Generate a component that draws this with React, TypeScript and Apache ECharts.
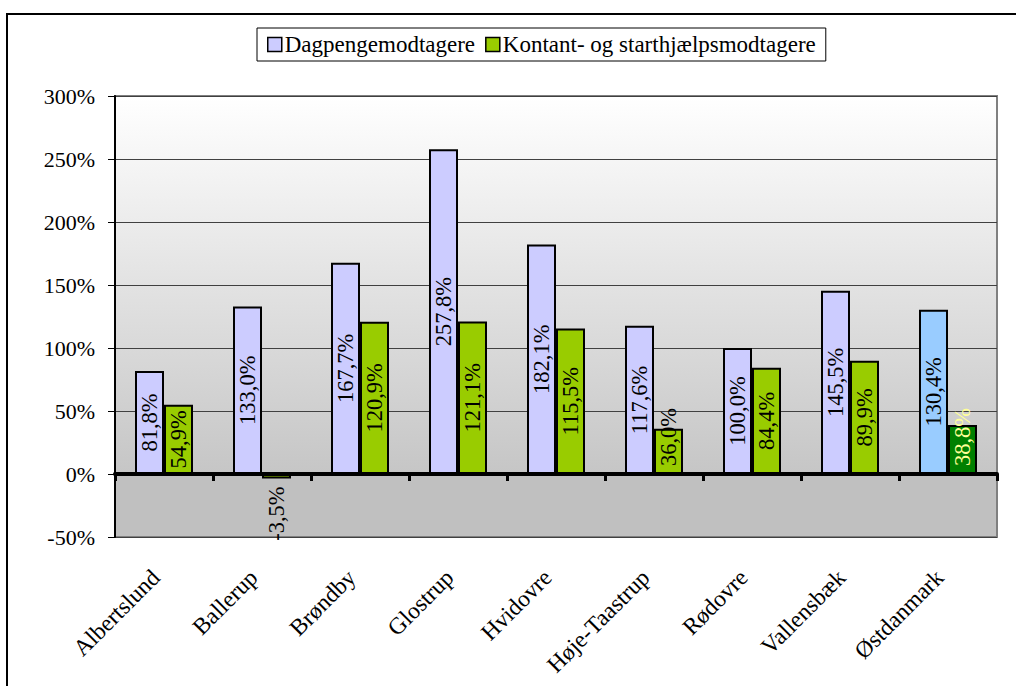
import React, { useEffect, useRef } from "react";
import * as echarts from "echarts";

const categories = [
  "Albertslund",
  "Ballerup",
  "Brøndby",
  "Glostrup",
  "Hvidovre",
  "Høje-Taastrup",
  "Rødovre",
  "Vallensbæk",
  "Østdanmark",
];
const dagpenge = [81.8, 133.0, 167.7, 257.8, 182.1, 117.6, 100.0, 145.5, 130.4];
const kontant = [54.9, -3.5, 120.9, 121.1, 115.5, 36.0, 84.4, 89.9, 38.8];
const seriesNames = ["Dagpengemodtagere", "Kontant- og starthjælpsmodtagere"];
const yTicks = { min: -50, max: 300, interval: 50 };

const FONT = '"Liberation Serif", "Times New Roman", Times, serif';
const fmt = (v: number) => v.toFixed(1).replace(".", ",") + "%";

export default function App() {
  const ref = useRef<HTMLDivElement>(null);
  useEffect(() => {
    document.body.style.margin = "0";
    if (!ref.current) return;
    const chart = echarts.init(ref.current, undefined, { renderer: "svg" });
    const last = categories.length - 1;
    const baseLabel = {
      show: true,
      position: "inside",
      rotate: 90,
      align: "center",
      verticalAlign: "middle",
      color: "#000",
      fontFamily: FONT,
      fontSize: 22.5,
      formatter: (p: any) => fmt(p.value),
    };
    const shortLabel = {
      position: "insideBottom",
      distance: 8,
      align: "left",
      verticalAlign: "middle",
    };
    const dagData = dagpenge.map((v, i) =>
      i === last ? { value: v, itemStyle: { color: "#99CCFF" } } : v
    );
    const konData = kontant.map((v, i) => {
      const item: any = { value: v };
      if (i === last) {
        item.itemStyle = { color: "#008000" };
        item.label = { color: "#FFFF99" };
      }
      if (v < 0) {
        item.label = {
          ...(item.label || {}),
          position: "bottom",
          distance: 8,
          align: "right",
          verticalAlign: "middle",
        };
      } else if (v < 45) {
        item.label = { ...(item.label || {}), ...shortLabel };
      }
      return item;
    });
    chart.setOption({
      animation: false,
      textStyle: { fontFamily: FONT },
      graphic: [
        {
          type: "rect",
          shape: { x: 7, y: 14, width: 1100, height: 800 },
          style: { fill: "none", stroke: "#000", lineWidth: 2 },
          silent: true,
        },
      ],
      legend: {
        top: 28,
        left: 257,
        data: seriesNames,
        icon: "rect",
        itemWidth: 14,
        itemHeight: 14,
        itemGap: 10,
        borderColor: "#000",
        borderWidth: 1,
        padding: [5, 10, 5, 10],
        textStyle: { fontFamily: FONT, fontSize: 23, color: "#000", padding: [0, 0, 0, -2] },
        itemStyle: { borderColor: "#000", borderWidth: 1.5 },
      },
      grid: {
        left: 115,
        top: 96,
        right: 19,
        bottom: 149,
        show: true,
        borderColor: "#808080",
        borderWidth: 2,
        backgroundColor: {
          type: "linear",
          x: 0,
          y: 0,
          x2: 0,
          y2: 1,
          colorStops: [
            { offset: 0, color: "#ffffff" },
            { offset: 0.854, color: "#c6c6c6" },
            { offset: 0.856, color: "#c0c0c0" },
            { offset: 1, color: "#c0c0c0" },
          ],
        },
      },
      xAxis: [
        {
          type: "category",
          data: categories,
          position: "bottom",
          axisLine: { show: false, onZero: false },
          axisTick: { show: false },
          axisLabel: {
            rotate: 45,
            margin: 28,
            padding: [0, 12, 0, 0],
            fontFamily: FONT,
            fontSize: 23.5,
            color: "#000",
          },
        },
        {
          type: "category",
          data: categories,
          position: "bottom",
          axisLine: { show: true, onZero: true, lineStyle: { color: "#000", width: 4 } },
          axisTick: { show: true, length: 7, lineStyle: { color: "#000", width: 3 } },
          axisLabel: { show: false },
          splitLine: { show: false },
          z: 5,
        },
      ],
      yAxis: {
        type: "value",
        min: yTicks.min,
        max: yTicks.max,
        interval: yTicks.interval,
        axisLine: { show: true, lineStyle: { color: "#000", width: 2 } },
        axisTick: { show: true, length: 7, lineStyle: { color: "#000", width: 1 } },
        axisLabel: {
          margin: 20,
          fontFamily: FONT,
          fontSize: 22,
          color: "#000",
          formatter: (v: number) => v + "%",
        },
        splitLine: { show: true, lineStyle: { color: "#404040", width: 1 } },
      },
      series: [
        {
          name: seriesNames[0],
          type: "bar",
          xAxisIndex: 0,
          data: dagData,
          barWidth: 29,
          barGap: "0%",
          itemStyle: { color: "#CCCCFF", borderColor: "#000", borderWidth: 2 },
          label: baseLabel,
        },
        {
          name: seriesNames[1],
          type: "bar",
          xAxisIndex: 0,
          data: konData,
          barWidth: 29,
          barGap: "0%",
          itemStyle: { color: "#99CC00", borderColor: "#000", borderWidth: 2 },
          label: baseLabel,
        },
      ],
    });
    return () => chart.dispose();
  }, []);
  return <div ref={ref} style={{ width: 1016, height: 686 }} />;
}
